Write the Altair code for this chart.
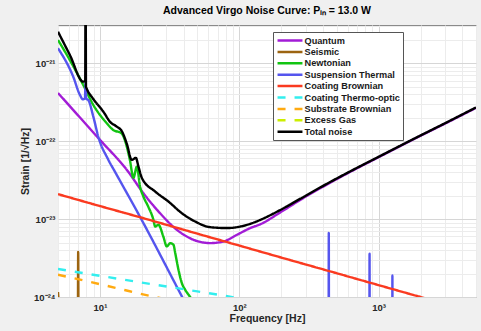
import altair as alt
import pandas as pd

# ---- data ----
SERIES = ["Quantum", "Seismic", "Newtonian", "Suspension Thermal", "Coating Brownian",
          "Coating Thermo-optic", "Substrate Brownian", "Excess Gas", "Total noise"]
COLORS = ["#a21cd6", "#9c6410", "#12c412", "#5555ee", "#fa3a20",
          "#33eeee", "#ffaa11", "#ccee00", "#000000"]
DASHED = [False, False, False, False, False, True, True, True, False]

QUANT_F = [5.0, 10.0, 15.6, 20.5, 27.0, 35.6, 46.9, 61.8, 77.1, 96.2, 120, 142, 197, 275, 383, 598,
           1033, 1786, 3034, 5000]
QUANT_H = [4.16e-22, 1.04e-22, 4.28e-23, 2.15e-23, 1.19e-23, 7.3e-24, 5.43e-24, 4.92e-24, 5.16e-24, 6.29e-24,
           7.67e-24, 8.6e-24, 1.22e-23, 1.77e-23, 2.5e-23, 3.87e-23, 6.42e-23, 1.06e-22, 1.70e-22, 2.68e-22]

SEIS_F = [5.0, 5.1, 5.5, 6.0, 6.9, 6.98, 7.06, 8.0, 10, 20, 50]
SEIS_H = [1.16e-24, 7e-25, 1e-25, 2e-26, 5e-27, 3.78e-24, 5e-27, 1e-27, 1e-28, 1e-30, 1e-33]

NEWT_F = [5.0, 6.08, 7.59, 8.96, 11.2, 12.4, 14.3, 15.6, 16.4, 17.4, 18.4, 19.4, 20.5, 22.2, 24.2, 24.9,
          26.3, 28.5, 30.2, 31.9, 33.7, 34.7, 36.6, 38.7, 40.9, 44.4, 52.4]
NEWT_H = [1.99e-21, 1.10e-21, 5.27e-22, 2.92e-22, 1.70e-22, 1.40e-22, 1.26e-22, 8.45e-23, 5.75e-23, 3.38e-23,
          4.72e-23, 2.62e-23, 1.95e-23, 1.45e-23, 9.8e-24, 8.03e-24, 8.45e-24, 5.98e-24, 4.46e-24, 4.90e-24,
          4.69e-24, 3.66e-24, 2.24e-24, 1.51e-24, 1.24e-24, 1.0e-24, 6e-25]

SUSP_F = [5.0, 6.43, 7.18, 7.55, 7.80, 7.89, 7.97, 8.24, 8.96, 9.72, 11.5, 12.8, 19.5, 38.7, 60, 100, 200,
          436, 439, 442, 855, 861, 867, 1248, 1256, 1264, 2000, 5000]
SUSP_H = [1.56e-21, 6.73e-22, 3.93e-22, 3.45e-22, 3.55e-22, 5.55e-22, 3.5e-22, 3.38e-22, 2.07e-22, 1.15e-22,
          5.75e-23, 4.07e-23, 1.05e-23, 1.02e-24, 2.3e-25, 4e-26, 3e-27, 3e-28, 6.62e-24, 3e-28, 4e-29,
          3.59e-24, 4e-29, 2e-29, 1.89e-24, 2e-29, 5e-30, 3e-31]

CB_F = [5, 10, 20, 50, 100, 200, 500, 1000, 2000, 5000]
CB_H = [2.09e-23, 1.47e-23, 1.04e-23, 6.5e-24, 4.57e-24, 3.21e-24, 2.02e-24, 1.42e-24, 1.0e-24, 6.3e-25]

CTO_F = [5, 10, 20, 50, 80, 100, 200, 500]
CTO_H = [2.29e-24, 1.87e-24, 1.53e-24, 1.18e-24, 1.03e-24, 9.6e-25, 7.9e-25, 6e-25]

SUB_F = [5, 10, 15, 20, 25, 50, 100]
SUB_H = [1.93e-24, 1.46e-24, 1.23e-24, 1.09e-24, 1.0e-24, 7.6e-25, 5.8e-25]

EXG_F = [5, 10, 100, 1000, 5000]
EXG_H = [4e-25, 3e-25, 2e-25, 1.5e-25, 1.2e-25]

TOT_F = [5.0, 6.08, 7.59, 7.84, 7.89, 7.94, 8.02, 8.96, 10.6, 11.8, 13.2, 14.3, 15.6, 16.9, 18.1, 18.9, 20.0,
         24.9, 31.0, 38.7, 48.2, 61.8, 81.6, 102, 120, 142, 197, 275, 383, 598, 1033, 1786, 3034, 5000]
TOT_H = [2.54e-21, 1.28e-21, 5.81e-22, 6.0e-22, 3e-20, 5.0e-22, 4.77e-22, 3.48e-22, 2.38e-22, 1.78e-22,
         1.54e-22, 1.36e-22, 9.23e-23, 5.75e-23, 6.11e-23, 4.72e-23, 3.36e-23, 2.26e-23, 1.68e-23, 1.19e-23,
         9.31e-24, 7.88e-24, 7.67e-24, 8.03e-24, 8.7e-24, 9.8e-24, 1.31e-23, 1.83e-23, 2.56e-23, 3.93e-23,
         6.49e-23, 1.07e-22, 1.72e-22, 2.71e-22]

X_TICKS = [5, 6, 7, 8, 9, 10, 20, 30, 40, 50, 60, 70, 80, 90, 100, 200, 300, 400, 500, 600, 700, 800, 900,
           1000, 2000, 3000, 4000, 5000]
Y_TICKS = [1e-24, 2e-24, 3e-24, 4e-24, 5e-24, 6e-24, 7e-24, 8e-24, 9e-24,
           1e-23, 2e-23, 3e-23, 4e-23, 5e-23, 6e-23, 7e-23, 8e-23, 9e-23,
           1e-22, 2e-22, 3e-22, 4e-22, 5e-22, 6e-22, 7e-22, 8e-22, 9e-22,
           1e-21, 2e-21, 3e-21]

# ---- table ----
pairs = [(QUANT_F, QUANT_H), (SEIS_F, SEIS_H), (NEWT_F, NEWT_H), (SUSP_F, SUSP_H), (CB_F, CB_H),
         (CTO_F, CTO_H), (SUB_F, SUB_H), (EXG_F, EXG_H), (TOT_F, TOT_H)]
rows = []
for name, (fs, hs) in zip(SERIES, pairs):
    for k, (f, h) in enumerate(zip(fs, hs)):
        rows.append({"series": name, "f": f, "h": h, "i": k})
df = pd.DataFrame(rows)

DEC = "abs(log(datum.value)/LN10 - round(log(datum.value)/LN10)) < 0.001"
E = "round(log(datum.value)/LN10)"
x_label = (f"!({DEC}) ? '' : {E} == 1 ? '10¹' : {E} == 2 ? '10²' : {E} == 3 ? '10³' : ''")
y_label = (f"!({DEC}) ? '' : {E} == -21 ? '10⁻²¹' : {E} == -22 ? '10⁻²²' : "
           f"{E} == -23 ? '10⁻²³' : {E} == -24 ? '10⁻²⁴' : ''")
grid_color = {"condition": {"test": DEC, "value": "#d6d6d6"}, "value": "#ececec"}

FONT = "Liberation Sans"
axis_common = dict(grid=True, gridColor=grid_color, gridWidth=1, ticks=False, domain=False,
                   labelFont=FONT, labelFontSize=9.5, labelFontWeight="bold", labelColor="#262626",
                   labelOverlap=False, labelFlush=False, labelBound=False,
                   titleFont=FONT, titleFontSize=10.5, titleFontWeight="bold", titleColor="#262626")

dash_range = [[8, 9] if d else [1, 0] for d in DASHED]

# wide flat line symbol: path spans +-3 units -> 3*sqrt(size) px long
legend = alt.Legend(title=None, orient="none", legendX=215, legendY=7, symbolType="M-3,0H3",
                    symbolSize=69, symbolStrokeWidth=2.5, symbolOffset=8.5,
                    labelFont=FONT, labelFontSize=9.2,
                    labelFontWeight="bold", labelColor="#1a1a1a", fillColor="white",
                    strokeColor="#555555", padding=3, rowPadding=0.4, labelOffset=9)

chart = alt.Chart(df).mark_line(clip=True, strokeWidth=2.4, interpolate="monotone").encode(
    x=alt.X("f:Q", scale=alt.Scale(type="log", domain=[5, 5000], nice=False),
            axis=alt.Axis(values=X_TICKS, labelExpr=x_label, title="Frequency [Hz]",
                          labelPadding=5, titlePadding=2, **axis_common)),
    y=alt.Y("h:Q", scale=alt.Scale(type="log", domain=[1e-24, 3.1e-21], nice=False),
            axis=alt.Axis(values=Y_TICKS, labelExpr=y_label, title="Strain [1/√Hz]",
                          labelPadding=3, titlePadding=3, **axis_common)),
    color=alt.Color("series:N", scale=alt.Scale(domain=SERIES, range=COLORS), legend=legend),
    strokeDash=alt.StrokeDash("series:N", scale=alt.Scale(domain=SERIES, range=dash_range), legend=legend),
    order=alt.Order("i:Q"),
).properties(
    width=418, height=272,
    autosize=alt.AutoSizeParams(type="none"),
    padding={"left": 58, "top": 25, "right": 5, "bottom": 34},
    background="#f0f0f0",
    title=alt.TitleParams("Advanced Virgo Noise Curve: Pᵢₙ = 13.0 W", font=FONT, fontSize=10.5,
                          fontWeight="bold", color="#000000", anchor="middle", offset=5),
).configure_view(fill="white", stroke="#8a8a8a", strokeWidth=1)

chart.save("out.html", embed_options={"renderer": "svg", "actions": False})
